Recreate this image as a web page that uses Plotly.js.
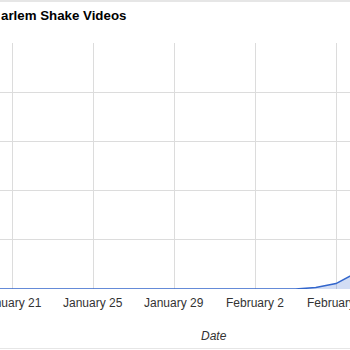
<!DOCTYPE html>
<html>
<head>
<meta charset="utf-8">
<script src="https://cdn.plot.ly/plotly-3.0.1.min.js"></script>
<style>html,body{margin:0;padding:0;background:#fff;}#chart{width:350px;height:350px;}</style>
</head>
<body>
<div id="chart"></div>
<script>
const dates = ["2013-01-20","2013-01-21","2013-01-22","2013-01-23","2013-01-24","2013-01-25","2013-01-26","2013-01-27","2013-01-28","2013-01-29","2013-01-30","2013-01-31","2013-02-01","2013-02-02","2013-02-03","2013-02-04","2013-02-05","2013-02-06","2013-02-07"];
const videos = [0,0,0,0,0,0,0,0,0,0,0,0,0,0,0,0,0.3,1.1,3.3];
const tickDates = ["2013-01-21","2013-01-25","2013-01-29","2013-02-02","2013-02-06"];
const tickLabels = ["January 21","January 25","January 29","February 2","February 6"];
const titleText = "arlem Shake Videos";
const xTitle = "Date";

const data = [{
  x: dates, y: videos, type: "scatter", mode: "lines",
  line: {color: "#3366cc", width: 1.6},
  fill: "tozeroy", fillcolor: "rgba(51,102,204,0.22)",
  hoverinfo: "skip"
}];

const tickAnnotations = tickDates.map((d, i) => ({
  text: tickLabels[i], xref: "x", yref: "paper",
  x: d, y: (289-303)/246, xanchor: "center", yanchor: "middle",
  showarrow: false, font: {size: 12, color: "#333"}
}));

const layout = {
  width: 350, height: 350,
  margin: {l: 0, r: 0, t: 43, b: 61},
  paper_bgcolor: "#fff", plot_bgcolor: "#fff",
  showlegend: false,
  font: {family: "Arial, 'Liberation Sans', sans-serif", size: 12, color: "#222"},
  xaxis: {
    type: "date",
    range: ["2013-01-20 09:46", "2013-02-06 16:35"],
    tickvals: tickDates, ticktext: tickLabels,
    showgrid: true, gridcolor: "#dcdcdc", gridwidth: 1,
    zeroline: false, showline: false, ticks: "", showticklabels: false,
    fixedrange: true
  },
  yaxis: {
    range: [0, 50], dtick: 10, tick0: 0,
    showgrid: true, gridcolor: "#dcdcdc", gridwidth: 1,
    zeroline: false, showline: false, showticklabels: false, ticks: "",
    fixedrange: true
  },
  annotations: [
    {text: "<b>" + titleText + "</b>", xref: "paper", yref: "paper",
     x: -1/350, y: (289-16)/246, xanchor: "left", yanchor: "middle",
     showarrow: false, font: {size: 13.3, color: "#000"}},
    {text: "<i>" + xTitle + "</i>", xref: "paper", yref: "paper",
     x: 214/350, y: (289-336)/246, xanchor: "center", yanchor: "middle",
     showarrow: false, font: {size: 12, color: "#333"}}
  ].concat(tickAnnotations),
  shapes: [
    {type: "line", xref: "paper", yref: "paper", x0: -0.05, x1: 1.05,
     y0: (289-1)/246, y1: (289-1)/246, line: {color: "#e6e6e6", width: 2}},
    {type: "line", xref: "paper", yref: "paper", x0: -0.05, x1: 1.05,
     y0: (289-348.5)/246, y1: (289-348.5)/246, line: {color: "#e6e6e6", width: 1}}
  ]
};

Plotly.newPlot("chart", data, layout, {displayModeBar: false, staticPlot: true});
</script>
</body>
</html>
